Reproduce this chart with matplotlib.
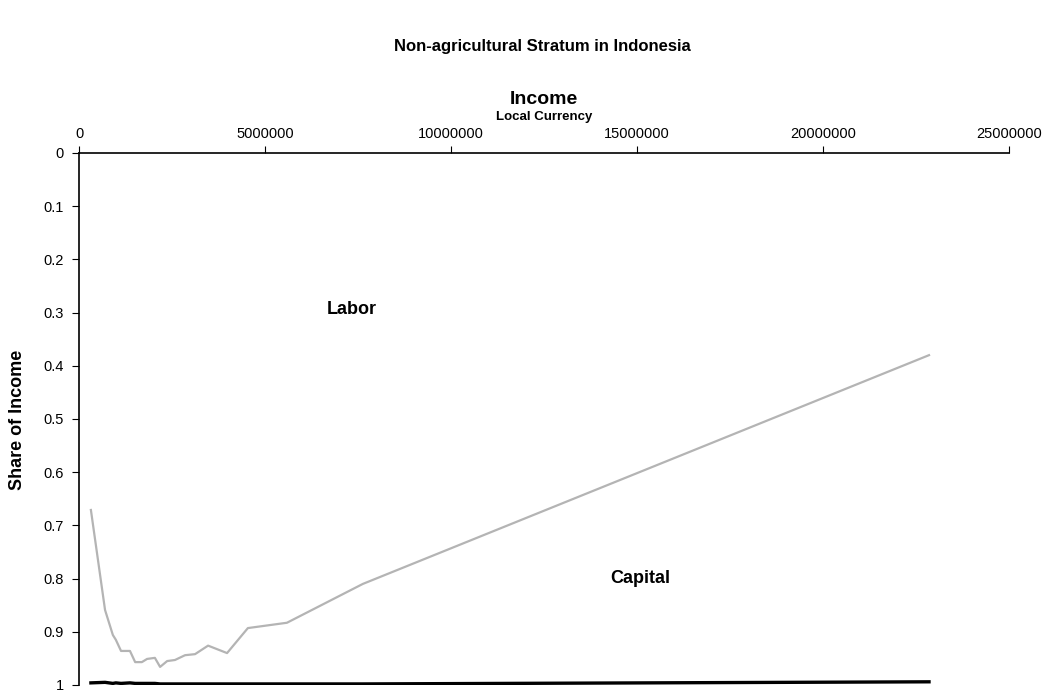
import matplotlib
matplotlib.use('Agg')
import matplotlib.pyplot as plt

plt.rcParams['font.family'] = ['Liberation Sans', 'DejaVu Sans']

# income points (local currency) and shares
income = [320000, 700000, 910000, 990000, 1130000, 1370000, 1510000, 1690000,
          1830000, 2040000, 2180000, 2370000, 2580000, 2850000, 3120000,
          3470000, 3980000, 4540000, 5590000, 7630000, 22850000]
labor_line = [0.671, 0.859, 0.906, 0.915, 0.936, 0.936, 0.957, 0.957,
              0.951, 0.949, 0.966, 0.955, 0.953, 0.944, 0.942,
              0.926, 0.940, 0.893, 0.883, 0.810, 0.380]
capital_line = [0.996, 0.995, 0.997, 0.996, 0.997, 0.996, 0.997, 0.997,
                0.997, 0.997, 0.998, 0.998, 0.998, 0.998, 0.998,
                0.998, 0.998, 0.998, 0.998, 0.998, 0.994]

xticks = [0, 5000000, 10000000, 15000000, 20000000, 25000000]
yticks = [0, 0.1, 0.2, 0.3, 0.4, 0.5, 0.6, 0.7, 0.8, 0.9, 1]

fig = plt.figure(figsize=(10.49, 6.94), dpi=100)
ax = fig.add_axes([79/1049, 9/694, 930/1049, 532/694])

ax.plot(income, labor_line, color='#b4b4b4', linewidth=1.6)
ax.plot(income, capital_line, color='black', linewidth=2.4)

ax.set_xlim(0, 25000000)
ax.set_ylim(1, 0)
ax.set_xticks(xticks)
ax.set_xticklabels([str(t) for t in xticks])
ax.set_yticks(yticks)
ax.set_yticklabels(['0', '0.1', '0.2', '0.3', '0.4', '0.5', '0.6', '0.7', '0.8', '0.9', '1'])
ax.xaxis.tick_top()
ax.tick_params(axis='both', direction='out', length=5, width=0.8, labelsize=10.5, pad=6)
ax.tick_params(axis='x', pad=4)

ax.spines['bottom'].set_visible(False)
ax.spines['right'].set_visible(False)
ax.spines['top'].set_linewidth(1.2)
ax.spines['left'].set_linewidth(1.2)

ax.text(7340000, 0.295, 'Labor', fontsize=13, fontweight='bold', ha='center', va='center')
ax.text(15080000, 0.799, 'Capital', fontsize=13, fontweight='bold', ha='center', va='center')

fig.text(542/1049, 1 - 47/694, 'Non-agricultural Stratum in Indonesia', fontsize=12,
         fontweight='bold', ha='center', va='center')
fig.text(544/1049, 1 - 100/694, 'Income', fontsize=14, fontweight='bold', ha='center', va='center')
fig.text(544/1049, 1 - 117/694, 'Local Currency', fontsize=9.5, fontweight='bold', ha='center', va='center')
fig.text(18/1049, 1 - 420/694, 'Share of Income', fontsize=13, fontweight='bold',
         ha='center', va='center', rotation=90)

fig.savefig('out.png', dpi=100)
